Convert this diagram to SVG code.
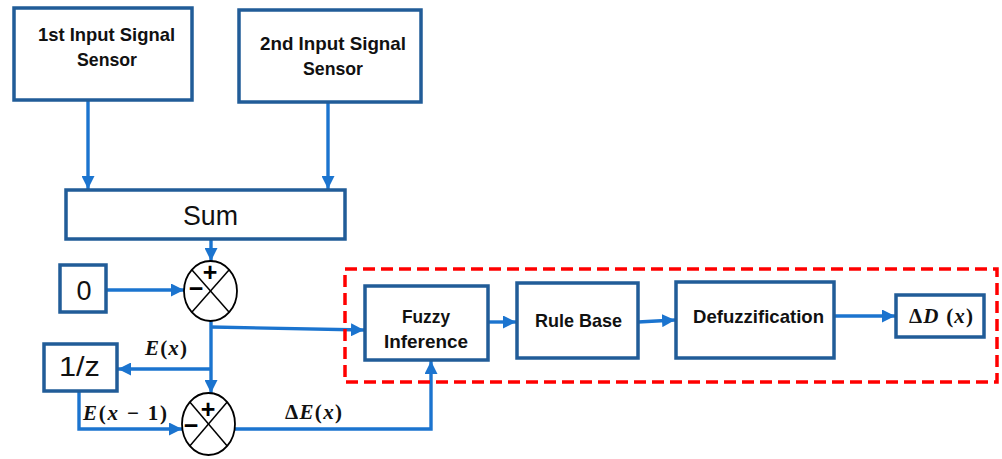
<svg xmlns="http://www.w3.org/2000/svg" width="1002" height="459" viewBox="0 0 1002 459">
<style>
.box{fill:#fff;stroke:#215C98;stroke-width:3.5}
.sum{fill:#fff;stroke:#000;stroke-width:1.8}
.x{stroke:#000;stroke-width:1.5}
.con{fill:none;stroke:#1B74CF;stroke-width:3.4}
.lbl{font-family:"Liberation Sans",Arial,sans-serif;font-weight:bold;font-size:19px;fill:#111}
.big{font-family:"Liberation Sans",Arial,sans-serif;font-size:27px;fill:#111}
.math{font-family:"Liberation Serif","Times New Roman",serif;font-weight:bold;font-size:21px;fill:#111}
.sign{font-family:"Liberation Sans",Arial,sans-serif;font-weight:bold;font-size:25px;fill:#000;text-anchor:middle}
</style>
<defs>
<marker id="ah" markerUnits="userSpaceOnUse" markerWidth="14" markerHeight="13" refX="13" refY="6.5" orient="auto">
<path d="M0,0 L13,6.5 L0,13 z" fill="#1B74CF"/>
</marker>
</defs>
<g id="connectors">
<path class="con" marker-end="url(#ah)" d="M88,101 V189"/>
<path class="con" marker-end="url(#ah)" d="M328,103 V189"/>
<path class="con" marker-end="url(#ah)" d="M211,240 V261"/>
<path class="con" marker-end="url(#ah)" d="M107,290 H184"/>
<path class="con" marker-end="url(#ah)" d="M211,321 V393"/>
<path class="con" marker-end="url(#ah)" d="M211,327 L364,330"/>
<path class="con" marker-end="url(#ah)" d="M211,369 H118"/>
<path class="con" marker-end="url(#ah)" d="M79,392 V429 H182"/>
<path class="con" marker-end="url(#ah)" d="M235,429 H431 V361"/>
<path class="con" marker-end="url(#ah)" d="M489,322 H516"/>
<path class="con" marker-end="url(#ah)" d="M638,322 L675,320"/>
<path class="con" marker-end="url(#ah)" d="M835,316 H895"/>
</g>
<g id="sensor1">
<rect class="box" x="14" y="8" width="178" height="92"/>
<text class="lbl" x="38" y="41" textLength="137" lengthAdjust="spacingAndGlyphs">1st Input Signal</text>
<text class="lbl" x="77" y="66" textLength="60" lengthAdjust="spacingAndGlyphs">Sensor</text>
</g>
<g id="sensor2">
<rect class="box" x="239" y="10" width="182" height="92"/>
<text class="lbl" x="260" y="50" textLength="146" lengthAdjust="spacingAndGlyphs">2nd Input Signal</text>
<text class="lbl" x="303" y="75" textLength="60" lengthAdjust="spacingAndGlyphs">Sensor</text>
</g>
<g id="sum">
<rect class="box" x="66" y="190" width="279" height="49"/>
<text class="big" x="183" y="225" textLength="55" lengthAdjust="spacingAndGlyphs">Sum</text>
</g>
<g id="zero">
<rect class="box" x="60" y="265" width="46" height="47"/>
<text class="big" x="84" y="300" text-anchor="middle">0</text>
</g>
<g id="delay">
<rect class="box" x="44" y="344" width="73" height="47"/>
<text class="big" x="59" y="376" textLength="41" lengthAdjust="spacingAndGlyphs">1/z</text>
</g>
<g id="summer1">
<ellipse class="sum" cx="210.5" cy="291" rx="26.5" ry="30"/>
<line class="x" x1="191.8" y1="269.8" x2="229.2" y2="312.2"/>
<line class="x" x1="229.2" y1="269.8" x2="191.8" y2="312.2"/>
<text class="sign" x="210" y="281">+</text>
<text class="sign" x="196" y="297">−</text>
</g>
<g id="summer2">
<ellipse class="sum" cx="208.5" cy="424" rx="26.5" ry="31"/>
<line class="x" x1="189.8" y1="402" x2="227.2" y2="446"/>
<line class="x" x1="227.2" y1="402" x2="189.8" y2="446"/>
<text class="sign" x="208" y="418">+</text>
<text class="sign" x="191" y="434">−</text>
</g>
<g id="labels">
<text class="math" x="145" y="355" textLength="42" lengthAdjust="spacing"><tspan font-style="italic">E</tspan>(<tspan font-style="italic">x</tspan>)</text>
<text class="math" x="83" y="420" textLength="84" lengthAdjust="spacing"><tspan font-style="italic">E</tspan>(<tspan font-style="italic">x</tspan> − 1)</text>
<text class="math" x="285" y="419" textLength="57" lengthAdjust="spacing">Δ<tspan font-style="italic">E</tspan>(<tspan font-style="italic">x</tspan>)</text>
</g>
<g id="fuzzy-block">
<rect x="345" y="269" width="652" height="113" fill="none" stroke="#FF0000" stroke-width="3.5" stroke-dasharray="12,6"/>
</g>
<g id="fuzzy-inference">
<rect class="box" x="365" y="286" width="123" height="74"/>
<text class="lbl" x="402" y="323" textLength="48" lengthAdjust="spacingAndGlyphs">Fuzzy</text>
<text class="lbl" x="384" y="348" textLength="84" lengthAdjust="spacingAndGlyphs">Inference</text>
</g>
<g id="rule-base">
<rect class="box" x="517" y="283" width="121" height="75"/>
<text class="lbl" x="535" y="327" textLength="87" lengthAdjust="spacingAndGlyphs">Rule Base</text>
</g>
<g id="defuzzification">
<rect class="box" x="676" y="282" width="158" height="76"/>
<text class="lbl" x="693" y="323" textLength="131" lengthAdjust="spacingAndGlyphs">Defuzzification</text>
</g>
<g id="output">
<rect class="box" x="896" y="295" width="88" height="42"/>
<text class="math" x="909" y="323" textLength="64" lengthAdjust="spacing">Δ<tspan font-style="italic">D</tspan> (<tspan font-style="italic">x</tspan>)</text>
</g>
</svg>
